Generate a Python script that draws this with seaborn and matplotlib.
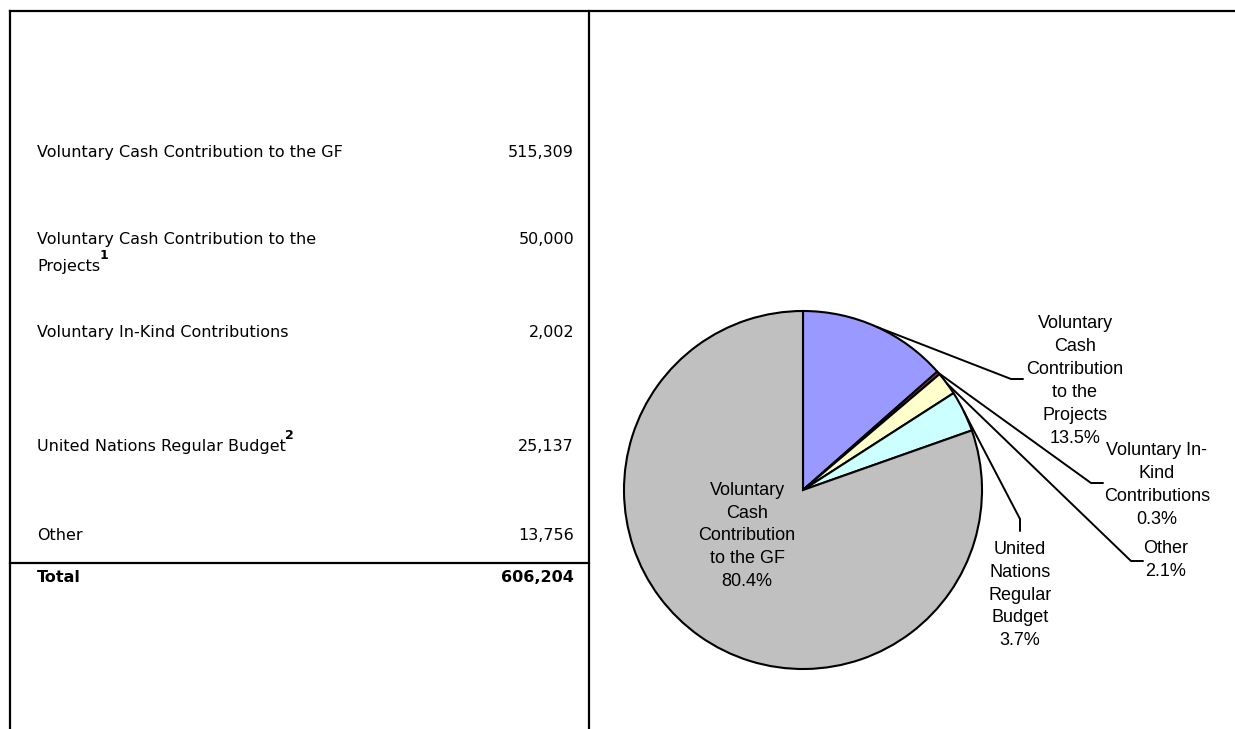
import numpy as np
import matplotlib
matplotlib.use("Agg")
import matplotlib.pyplot as plt
import seaborn as sns

# ---- table data ----
row_labels = [
    "Voluntary Cash Contribution to the GF",
    "Voluntary Cash Contribution to the\nProjects",
    "Voluntary In-Kind Contributions",
    "United Nations Regular Budget",
    "Other",
]
row_values = ["515,309", "50,000", "2,002", "25,137", "13,756"]
row_notes = ["", "1", "", "2", ""]
total_label = "Total"
total_value = "606,204"

# ---- pie data (shares in percent, clockwise from 12 o'clock) ----
pie_labels = [
    "Voluntary\nCash\nContribution\nto the\nProjects",
    "Voluntary In-\nKind\nContributions",
    "Other",
    "United\nNations\nRegular\nBudget",
    "Voluntary\nCash\nContribution\nto the GF",
]
pie_shares = [13.5, 0.3, 2.1, 3.7, 80.4]
pie_colors = ["#9999FF", "#993366", "#FFFFCC", "#CCFFFF", "#C0C0C0"]

sns.set_theme(style="white")
plt.rcParams["font.family"] = ["DejaVu Sans"]

W, H = 1235, 729
fig = plt.figure(figsize=(W / 100, H / 100), dpi=100)
fig.patch.set_facecolor("white")

# background axes in pixel units for the table frame and text
bg = fig.add_axes([0, 0, 1, 1])
bg.set_xlim(0, W)
bg.set_ylim(H, 0)
bg.axis("off")

frame_kw = dict(color="black", lw=1.6, solid_capstyle="projecting")
bg.plot([10, W], [11, 11], **frame_kw)
bg.plot([10, 10], [11, H], **frame_kw)
bg.plot([589, 589], [11, H], **frame_kw)
bg.plot([10, 589], [563, 563], **frame_kw)

row_y = [152, 239, 332, 446, 536]
line_gap = 27
text_x, value_x = 37, 574
tfont = dict(fontsize=11.5, color="black", family="DejaVu Sans")
for lab, val, note, y in zip(row_labels, row_values, row_notes, row_y):
    t = None
    for k, line in enumerate(lab.split("\n")):
        t = bg.text(text_x, y + k * line_gap, line, ha="left", va="center", **tfont)
    bg.text(value_x, y, val, ha="right", va="center", **tfont)
    if note:
        bg.annotate(note, xy=(1, 0.8), xycoords=t, xytext=(-0.5, 0),
                    textcoords="offset points", ha="left", va="bottom",
                    fontsize=9, fontweight="bold", color="black")

bg.text(text_x, 578, total_label, ha="left", va="center",
        fontweight="bold", **tfont)
bg.text(value_x, 578, total_value, ha="right", va="center",
        fontweight="bold", **tfont)

# pie axes: one data unit equals the pie radius in pixels
cx, cy, R = 803, 490, 179
pa = fig.add_axes([0, 0, 1, 1])
wedges, _ = pa.pie(pie_shares, colors=pie_colors, startangle=90,
                   counterclock=False, radius=1,
                   wedgeprops=dict(edgecolor="black", linewidth=1.5))
pa.set_aspect("auto")
pa.set_xlim(-cx / R, (W - cx) / R)
pa.set_ylim((cy - H) / R, cy / R)
pa.axis("off")


def to_data(px, py):
    return (px - cx) / R, (cy - py) / R


total = float(sum(pie_shares))
cum = np.concatenate([[0.0], np.cumsum(pie_shares)])
mid_deg = 90 - 360 * (cum[:-1] + cum[1:]) / 2 / total

label_font = dict(fontsize=13, family="Liberation Sans", color="black",
                  linespacing=1.45, ha="center", va="center")

# label centre and leader-line path (elbow, tail end) in pixels
label_layout = [
    ((1075, 381), [(1011, 379), (1023, 379)]),
    ((1157, 485), [(1091, 483), (1103, 483)]),
    ((1166, 560), [(1131, 561), (1143, 561)]),
    ((1020, 595), [(1020, 519), (1020, 531)]),
    ((747, 536), None),
]

for lab, share, ang, (pos, path) in zip(pie_labels, pie_shares, mid_deg, label_layout):
    text = f"{lab}\n{share:.1f}%"
    tx, ty = to_data(*pos)
    pa.text(tx, ty, text, **label_font)
    if path:
        a = np.deg2rad(ang)
        xs = [np.cos(a)] + [to_data(*p)[0] for p in path]
        ys = [np.sin(a)] + [to_data(*p)[1] for p in path]
        pa.plot(xs, ys, color="black", lw=1.4, clip_on=False)

fig.savefig("out.png", dpi=100, facecolor="white")
